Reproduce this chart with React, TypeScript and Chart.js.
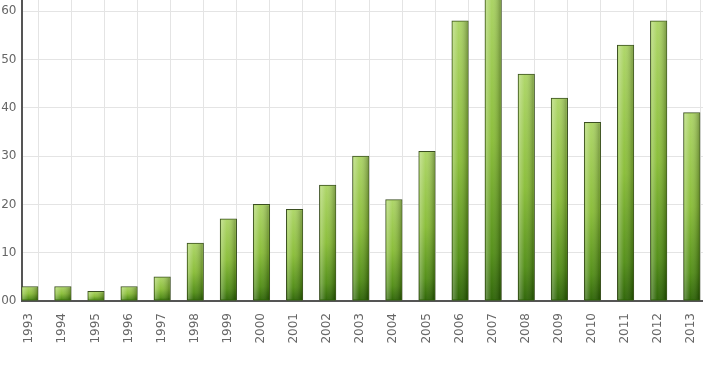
import { useEffect, useRef } from "react";
import { Chart, registerables } from "chart.js";

Chart.register(...registerables);

const years = [
  "1993", "1994", "1995", "1996", "1997", "1998", "1999", "2000", "2001", "2002", "2003",
  "2004", "2005", "2006", "2007", "2008", "2009", "2010", "2011", "2012", "2013",
];
const counts = [3, 3, 2, 3, 5, 12, 17, 20, 19, 24, 30, 21, 31, 58, 66, 47, 42, 37, 53, 58, 39];
const yTicks = [0, 10, 20, 30, 40, 50, 60, 70];
const yTickLabels = ["00", "10", "20", "30", "40", "50", "60", "70"];

const FONT = { family: "'DejaVu Sans', Verdana, sans-serif", size: 12 };

const barFill = (ctx: any) => {
  const chart = ctx.chart;
  const y = chart.scales && chart.scales.y;
  if (ctx.type !== "data" || !y || ctx.raw == null) return "#7fb52f";
  const top = y.getPixelForValue(ctx.raw);
  const base = y.getPixelForValue(0);
  if (!isFinite(top) || !isFinite(base) || top === base) return "#7fb52f";
  const g = chart.ctx.createLinearGradient(0, top, 0, base);
  g.addColorStop(0, "#acd564");
  g.addColorStop(0.5, "#87bc34");
  g.addColorStop(0.85, "#4f8c12");
  g.addColorStop(1, "#286000");
  return g;
};

const sheen = {
  id: "sheen",
  afterDatasetsDraw(chart: any) {
    const meta = chart.getDatasetMeta(0);
    const c = chart.ctx;
    const a = chart.chartArea;
    c.save();
    c.beginPath();
    c.rect(a.left, a.top, a.right - a.left, a.bottom - a.top);
    c.clip();
    meta.data.forEach((bar: any) => {
      const { x, y, base, width } = bar.getProps(["x", "y", "base", "width"], true);
      const l = x - width / 2 + 1;
      const r = x + width / 2 - 1;
      const g = c.createLinearGradient(l, 0, r, 0);
      g.addColorStop(0, "rgba(255,255,255,0.32)");
      g.addColorStop(0.4, "rgba(255,255,255,0.04)");
      g.addColorStop(1, "rgba(0,0,0,0.26)");
      c.fillStyle = g;
      c.fillRect(l, y + 1, r - l, base - y - 2);
    });
    c.restore();
  },
};

export default function App() {
  const ref = useRef<HTMLCanvasElement>(null);
  useEffect(() => {
    document.body.style.margin = "0";
    const chart = new Chart(ref.current!, {
      type: "bar",
      data: {
        labels: years,
        datasets: [
          {
            data: counts,
            backgroundColor: barFill,
            borderColor: "#3b4f22",
            borderWidth: 1,
            categoryPercentage: 1,
            barPercentage: 1,
          },
          {
            data: years.map(() => null),
            categoryPercentage: 1,
            barPercentage: 1,
          },
        ],
      },
      options: {
        responsive: false,
        animation: false,
        layout: { padding: { top: 13, right: 13.4, left: 0, bottom: 0 } },
        plugins: { legend: { display: false }, tooltip: { enabled: false } },
        scales: {
          x: {
            offset: true,
            grid: { offset: false, color: "#e4e4e4", drawTicks: false },
            border: { display: true, color: "#555", width: 2 },
            ticks: {
              minRotation: 90,
              maxRotation: 90,
              autoSkip: false,
              padding: 12,
              labelOffset: -8.8,
              color: "#666",
              font: FONT,
            },
            afterFit: (s: any) => {
              s.height = 73;
            },
          },
          y: {
            min: 0,
            max: 70,
            grid: { color: "#e4e4e4", drawTicks: false },
            border: { display: true, color: "#555", width: 2 },
            ticks: {
              stepSize: 10,
              padding: 5,
              color: "#666",
              font: FONT,
              callback: (v: any) => {
                const i = yTicks.indexOf(Number(v));
                return i >= 0 ? yTickLabels[i] : "";
              },
            },
            afterFit: (s: any) => {
              s.width = 21.5;
            },
          },
        },
      },
      plugins: [sheen],
    });
    return () => chart.destroy();
  }, []);
  return (
    <div style={{ position: "relative", width: 703, height: 374, overflow: "hidden", background: "#fff" }}>
      <canvas
        ref={ref}
        width={730}
        height={424}
        style={{ position: "absolute", left: 0, top: -50, width: 730, height: 424 }}
      />
    </div>
  );
}
